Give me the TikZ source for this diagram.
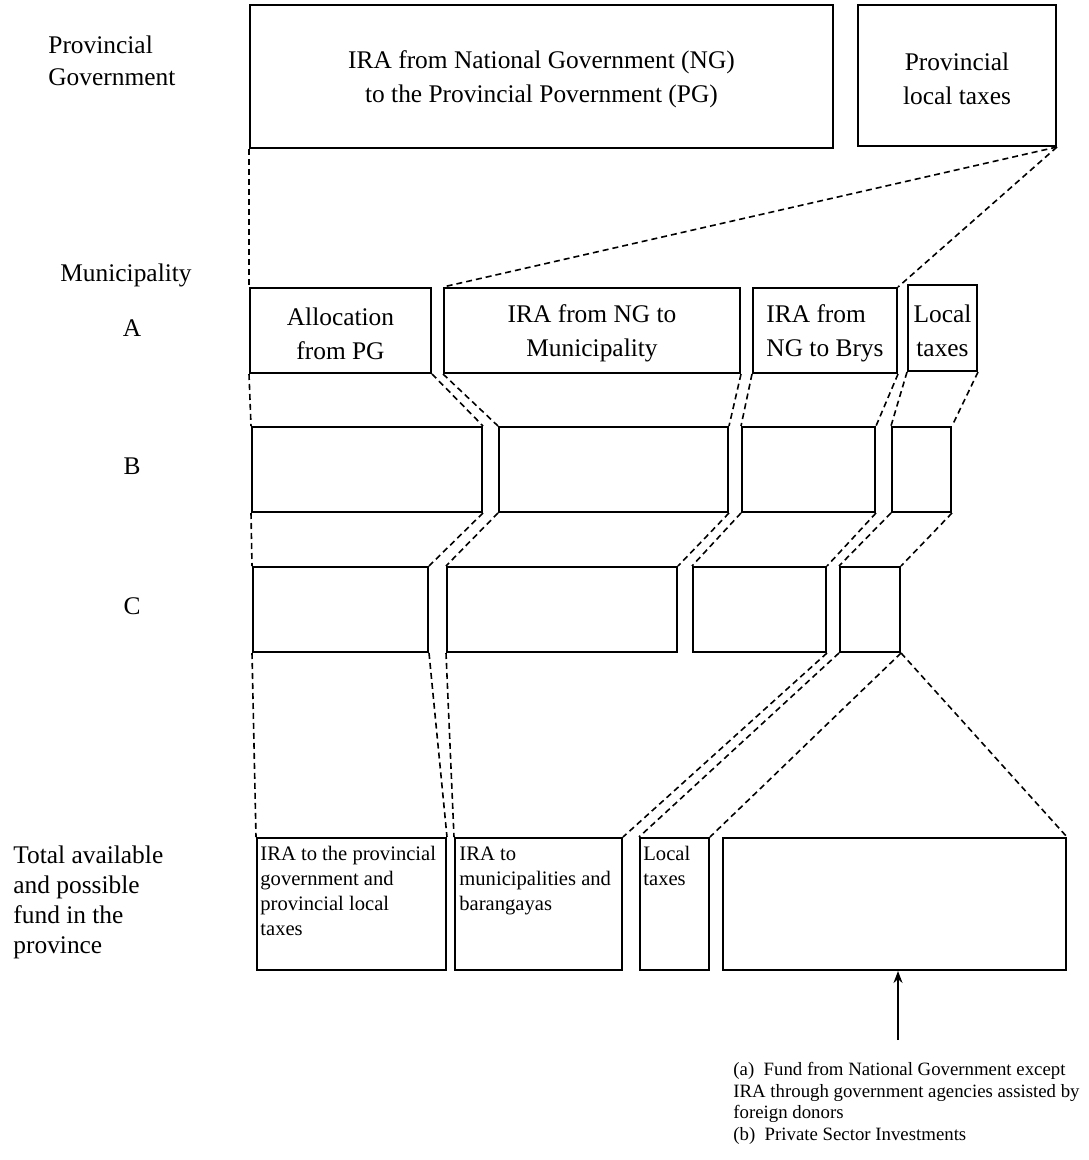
\documentclass[tikz,border=0pt]{standalone}
\usepackage{fontspec}
\setmainfont{Liberation Serif}
\usepackage{tikz}
\usetikzlibrary{arrows.meta,fit}

\newcommand\bigtxt{\fontsize{12.7}{17}\selectfont}
\newcommand\boxtxt{\fontsize{10.3}{12.5}\selectfont}
\newcommand\notetxt{\fontsize{9.4}{10.8}\selectfont}

\begin{document}
\begin{tikzpicture}[x=0.5pt,y=-0.5pt,>=Stealth,
    box/.style={draw,line width=1pt,inner sep=0pt},
    boxtitle/.style={font=\bigtxt,align=center,inner sep=0pt,yshift=-1.5pt},
    link/.style={line width=0.8pt,dash pattern=on 3pt off 2pt},
    sidelbl/.style={font=\bigtxt,align=left,anchor=west,inner sep=0pt},
    intxt/.style={font=\boxtxt,align=left,anchor=north west,inner sep=0pt}]
            \useasboundingbox (0,0) rectangle (1088,1160);
            % provincial level
            \node[box,fit={(250,5) (833,148)}] (pg) {};
            \node[box,fit={(858,5) (1056,146)}] (plt) {};
            \node[boxtitle] (pgtxt) at (pg.center) {IRA from National Government (NG)\\to the Provincial Povernment (PG)};
            \node[boxtitle] (plttxt) at (plt.center) {Provincial\\local taxes};
            % municipality A
            \node[box,fit={(250,288) (431,373)}] (a1) {};
            \node[box,fit={(444,288) (740,373)}] (a2) {};
            \node[box,fit={(753,288) (897,373)}] (a3) {};
            \node[box,fit={(908,285) (977,371)}] (a4) {};
            \node[boxtitle] (a1txt) at (a1.center) {Allocation\\from PG};
            \node[boxtitle] (a2txt) at (a2.center) {IRA from NG to\\Municipality};
            \node[boxtitle,align=left] (a3txt) at (a3.center) {IRA from\\NG to Brys};
            \node[boxtitle] (a4txt) at (a4.center) {Local\\taxes};
            % municipality B
            \node[box,fit={(252,427) (482,512)}] (b1) {};
            \node[box,fit={(499,427) (728,512)}] (b2) {};
            \node[box,fit={(742,427) (875,512)}] (b3) {};
            \node[box,fit={(892,427) (951,512)}] (b4) {};
            % municipality C
            \node[box,fit={(253,567) (428,652)}] (c1) {};
            \node[box,fit={(447,567) (677,652)}] (c2) {};
            \node[box,fit={(693,567) (826,652)}] (c3) {};
            \node[box,fit={(840,567) (900,652)}] (c4) {};
            % total fund
            \node[box,fit={(257,838) (446,970)}] (t1) {};
            \node[box,fit={(455,838) (622,970)}] (t2) {};
            \node[box,fit={(640,838) (709,970)}] (t3) {};
            \node[box,fit={(723,838) (1066,970)}] (t4) {};
            \node[intxt] (t1txt) at (260,846) {IRA to the provincial\\government and\\provincial local\\taxes};
            \node[intxt] (t2txt) at (459,846) {IRA to\\municipalities and\\barangayas};
            \node[intxt] (t3txt) at (643,846) {Local\\taxes};
            % row labels
            \node[sidelbl,font=\fontsize{12.7}{16}\selectfont] (lpg) at (48,61) {Provincial\\Government};
            \node[sidelbl] (lmun) at (60,275) {Municipality};
            \node[sidelbl,anchor=center] (la) at (132,328) {A};
            \node[sidelbl,anchor=center] (lb) at (132,466) {B};
            \node[sidelbl,anchor=center] (lc) at (132,606) {C};
            \node[sidelbl,anchor=north west,font=\fontsize{12.7}{15}\selectfont] (ltot) at (13,845) {Total available\\and possible\\fund in the\\province};
            % dashed links
            \draw[link] (pg.south west) -- (a1.north west);
            \draw[link] (plt.south east) -- (a2.north west);
            \draw[link] (plt.south east) -- (a3.north east);
            \foreach \r/\s in {a/b,b/c}
              \foreach \i in {1,...,4} {
                \draw[link] (\r\i.south west) -- (\s\i.north west);
                \draw[link] (\r\i.south east) -- (\s\i.north east);
              }
            \draw[link] (c1.south west) -- (t1.north west);
            \draw[link] (c1.south east) -- (t1.north east);
            \draw[link] (c2.south west) -- (t2.north west);
            \draw[link] (c3.south east) -- (t2.north east);
            \draw[link] (c4.south west) -- (t3.north west);
            \draw[link] (c4.south east) -- (t3.north east);
            \draw[link] (c4.south east) -- (t4.north east);
            % other funds
            \coordinate (src) at (898,1040);
            \draw[->,line width=1pt,>={Stealth[length=6pt,width=4.5pt]}] (src) -- (src |- t4.south);
            \node[anchor=north west,inner sep=0pt,font=\notetxt,align=left] (note) at (733,1062)
              {(a)\ \ Fund from National Government except\\IRA through government agencies assisted by\\foreign donors\\(b)\ \ Private Sector Investments};
        \end{tikzpicture}
\end{document}
